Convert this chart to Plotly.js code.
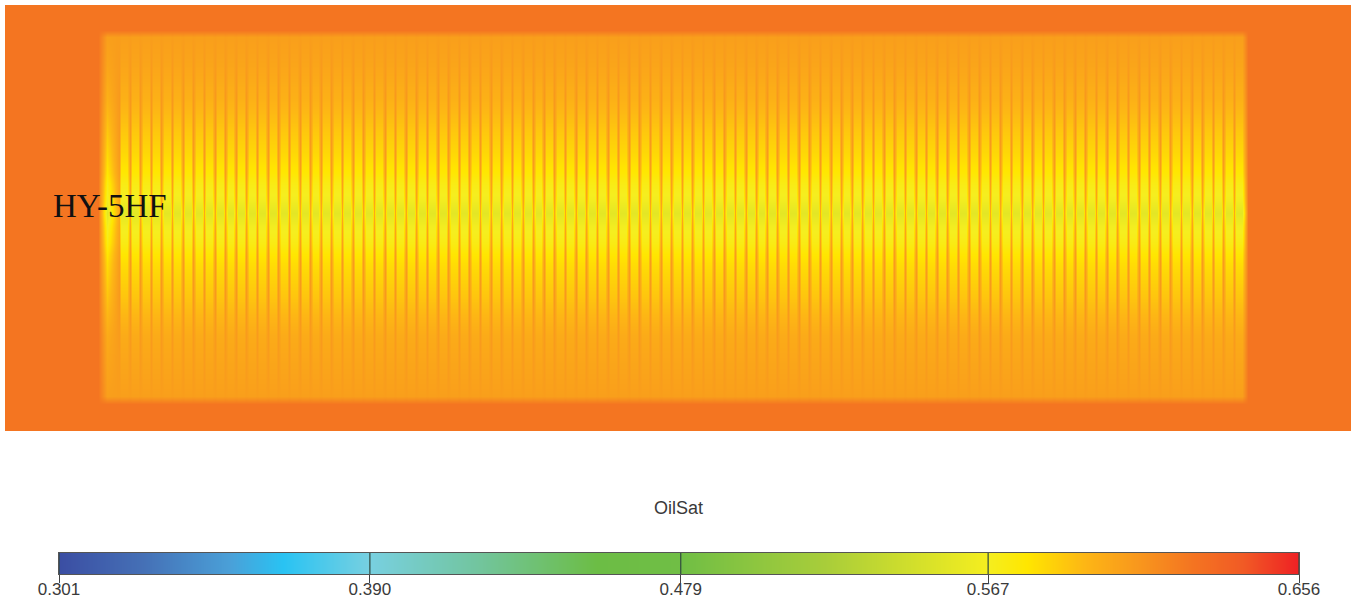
<!DOCTYPE html>
<html>
<head>
<meta charset="utf-8">
<script src="https://cdn.plot.ly/plotly-3.0.1.min.js"></script>
<style>
  html, body { margin: 0; padding: 0; background: white; }
</style>
</head>
<body>
<div id="chart" style="width:1355px;height:599px;"></div>
<script>
// colour legend
var stopValues = [0.301, 0.325, 0.350, 0.365, 0.390, 0.420, 0.455, 0.479, 0.520, 0.567, 0.578, 0.595, 0.610, 0.625, 0.640, 0.656];
var stopColors = ['#3b4ea3', '#4570b6', '#4aa0d8', '#29c3f3', '#78d0e0', '#72c5a0', '#6cbd45', '#70be45', '#a8cd3a', '#f5ee1f', '#ffe600', '#fdb515', '#f8971d', '#f47521', '#f15a25', '#ee2024'];
var tickVals = [0.301, 0.390, 0.479, 0.567, 0.656];
var tickLabels = ['0.301', '0.390', '0.479', '0.567', '0.656'];

// oil saturation down the section: on the stripes and in the gaps between them
var rowDepth  = [32, 60, 95, 125, 155, 168, 178, 195, 208, 221, 238, 248, 258, 290, 330, 391];
var rowStripe = [0.606, 0.603, 0.597, 0.589, 0.581, 0.577, 0.571, 0.565, 0.556, 0.565, 0.571, 0.577, 0.581, 0.589, 0.600, 0.606];
var rowGap    = [0.607, 0.608, 0.609, 0.609, 0.608, 0.607, 0.605, 0.603, 0.601, 0.603, 0.605, 0.607, 0.608, 0.609, 0.608, 0.607];
var outerSat = 0.625;

var fieldWidth = 1346;
var fieldHeight = 426;
var firstGap = 114;
var gapSpacing = 10.62;
var gapCount = 106;

var fieldX = [0, 93, 102];
var isGap = [false, false, false];
for (var k = 0; k < gapCount; k++) {
  var g = firstGap + k * gapSpacing;
  fieldX.push(g, g + gapSpacing * 0.22, g + gapSpacing * 0.78);
  isGap.push(true, false, false);
}
fieldX.push(1243, fieldWidth);
isGap.push(false, false);

var fieldY = [0, 25].concat(rowDepth, [399, fieldHeight]);

var fieldZ = fieldY.map(function(y, r) {
  var inner = r - 2;
  var hasStripes = inner >= 0 && inner < rowDepth.length;
  return fieldX.map(function(x, c) {
    if (!hasStripes || c < 2 || c >= fieldX.length - 2) return outerSat;
    return isGap[c] ? rowGap[inner] : rowStripe[inner];
  });
});

var zMin = stopValues[0];
var zMax = stopValues[stopValues.length - 1];
var colorscale = stopValues.map(function(v, i) {
  return [(v - zMin) / (zMax - zMin), stopColors[i]];
});

var traceField = {
  type: 'heatmap',
  x: fieldX,
  y: fieldY,
  z: fieldZ,
  zmin: zMin,
  zmax: zMax,
  zsmooth: 'best',
  colorscale: colorscale,
  showscale: false,
  hoverinfo: 'skip'
};

var traceLegend = {
  type: 'heatmap',
  x: stopValues,
  y: [0, 1],
  z: [stopValues, stopValues],
  xaxis: 'x2',
  yaxis: 'y2',
  zmin: zMin,
  zmax: zMax,
  zsmooth: 'best',
  colorscale: colorscale,
  showscale: false,
  hoverinfo: 'skip'
};

// tick lines run through the bar
var tickShapes = tickVals.map(function(v) {
  return {
    type: 'line', xref: 'x2', yref: 'y2',
    x0: v, x1: v, y0: 0, y1: 1,
    line: {color: '#2f4a3f', width: 1.2}
  };
});

var layout = {
  width: 1355,
  height: 599,
  margin: {l: 0, r: 0, t: 0, b: 0},
  paper_bgcolor: 'white',
  plot_bgcolor: 'white',
  showlegend: false,
  xaxis: {domain: [5 / 1355, 1351 / 1355], range: [0, fieldWidth], visible: false},
  yaxis: {domain: [1 - 431 / 599, 1 - 5 / 599], range: [fieldHeight, 0], visible: false},
  xaxis2: {
    domain: [59 / 1355, 1299 / 1355],
    range: [zMin, zMax],
    anchor: 'y2',
    tickmode: 'array',
    tickvals: tickVals,
    ticktext: tickLabels,
    ticks: 'outside',
    ticklen: 8,
    tickwidth: 1,
    tickcolor: '#444444',
    ticklabelstandoff: -8,
    tickfont: {family: 'Liberation Sans, Arial, sans-serif', size: 17, color: '#3a3a3a'},
    showgrid: false,
    zeroline: false,
    showline: true,
    linecolor: '#555555',
    linewidth: 1,
    mirror: true
  },
  yaxis2: {
    domain: [1 - 574 / 599, 1 - 553 / 599],
    range: [0, 1],
    anchor: 'x2',
    showticklabels: false,
    ticks: '',
    showgrid: false,
    zeroline: false,
    showline: true,
    linecolor: '#555555',
    linewidth: 1,
    mirror: true
  },
  shapes: tickShapes,
  annotations: [{
    text: 'HY-5HF',
    xref: 'paper', yref: 'paper',
    x: 52 / 1355, y: 1 - 206 / 599,
    xanchor: 'left', yanchor: 'middle',
    showarrow: false,
    borderpad: 0,
    font: {family: 'Liberation Serif, Times New Roman, serif', size: 33, color: '#111111'}
  }, {
    text: 'OilSat',
    xref: 'paper', yref: 'paper',
    x: 678 / 1355, y: 1 - 508 / 599,
    xanchor: 'center', yanchor: 'middle',
    showarrow: false,
    font: {family: 'Liberation Sans, Arial, sans-serif', size: 18, color: '#3a3a3a'}
  }]
};

Plotly.newPlot('chart', [traceField, traceLegend], layout, {displayModeBar: false});
</script>
</body>
</html>
